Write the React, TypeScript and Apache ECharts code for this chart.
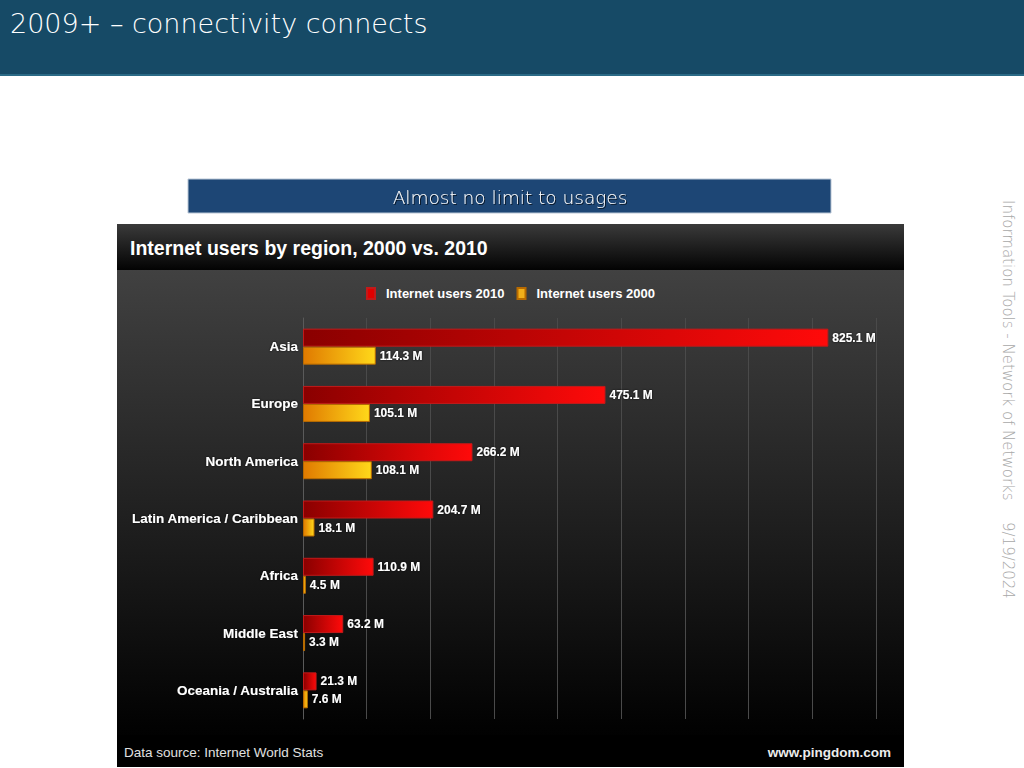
import React, { useEffect, useRef } from "react";
import * as echarts from "echarts";

const regions = [
  "Asia",
  "Europe",
  "North America",
  "Latin America / Caribbean",
  "Africa",
  "Middle East",
  "Oceania / Australia",
];
const users2010 = [825.1, 475.1, 266.2, 204.7, 110.9, 63.2, 21.3];
const users2000 = [114.3, 105.1, 108.1, 18.1, 4.5, 3.3, 7.6];
const seriesNames = ["Internet users 2010", "Internet users 2000"];

const slideTitle = "2009+ – connectivity connects";
const subtitle = "Almost no limit to usages";
const chartTitle = "Internet users by region, 2000 vs. 2010";
const sourceText = "Data source: Internet World Stats";
const siteText = "www.pingdom.com";
const sideText = "Information Tools - Network of Networks";
const dateText = "9/19/2024";

export default function App() {
  const ref = useRef<HTMLDivElement>(null);
  useEffect(() => {
    if (!ref.current) return;
    const chart = echarts.init(ref.current, null, { renderer: "svg" });
    const redGrad = {
      type: "linear", x: 0, y: 0, x2: 1, y2: 0,
      colorStops: [
        { offset: 0, color: "#8a0000" },
        { offset: 1, color: "#ff0a0a" },
      ],
    };
    const orangeGrad = {
      type: "linear", x: 0, y: 0, x2: 1, y2: 0,
      colorStops: [
        { offset: 0, color: "#e07a00" },
        { offset: 1, color: "#ffd81a" },
      ],
    };
    const labelStyle = {
      show: true,
      position: "right",
      distance: 4,
      color: "#ffffff",
      fontFamily: "Liberation Sans",
      fontWeight: "bold",
      fontSize: 12,
      formatter: "{c} M",
      textShadowColor: "rgba(0,0,0,0.8)",
      textShadowBlur: 2,
    };
    const slideFont = "DejaVu Sans";
    const option: any = {
      animation: false,
      backgroundColor: "#ffffff",
      graphic: [
        { type: "rect", z: -10, shape: { x: 0, y: 0, width: 1024, height: 75 }, style: { fill: "#164a66" } },
        { type: "rect", z: -10, shape: { x: 0, y: 74, width: 1024, height: 2 }, style: { fill: "#2a6a86" } },
        {
          type: "text", x: 10, y: 23,
          style: { text: slideTitle, fill: "#ffffff", fontFamily: slideFont, fontWeight: 200, fontSize: 27, verticalAlign: "middle", align: "left" },
        },
        { type: "rect", z: -10, shape: { x: 188, y: 179, width: 643, height: 34 }, style: { fill: "#1d4675", stroke: "#b9c6d6", lineWidth: 1 } },
        {
          type: "text", x: 510, y: 197,
          style: {
            text: subtitle, fill: "#ffffff", fontFamily: slideFont, fontWeight: 200, fontSize: 18.5, align: "center", verticalAlign: "middle",
            textShadowColor: "rgba(0,0,0,0.7)", textShadowOffsetX: 1, textShadowOffsetY: 1, textShadowBlur: 1,
          },
        },
        // chart image background
        {
          type: "rect", z: -10, shape: { x: 117, y: 270, width: 787, height: 497 },
          style: {
            fill: {
              type: "linear", x: 0, y: 0, x2: 0, y2: 1, global: false,
              colorStops: [
                { offset: 0, color: "#414141" },
                { offset: 0.55, color: "#1c1c1c" },
                { offset: 0.92, color: "#020202" },
                { offset: 1, color: "#000000" },
              ],
            },
          },
        },
        {
          type: "rect", z: -10, shape: { x: 117, y: 224, width: 787, height: 46 },
          style: {
            fill: {
              type: "linear", x: 0, y: 0, x2: 0, y2: 1, global: false,
              colorStops: [
                { offset: 0, color: "#3a3a3a" },
                { offset: 1, color: "#030303" },
              ],
            },
          },
        },
        { type: "rect", z: -10, shape: { x: 117, y: 735, width: 787, height: 32 }, style: { fill: "#000000" } },
        {
          type: "text", x: 130, y: 248,
          style: { text: chartTitle, fill: "#ffffff", fontFamily: "Liberation Sans", fontWeight: "bold", fontSize: 19.5, verticalAlign: "middle" },
        },
        {
          type: "text", x: 124, y: 752,
          style: { text: sourceText, fill: "#e0e0e0", fontFamily: "Liberation Sans", fontSize: 13.5, verticalAlign: "middle" },
        },
        {
          type: "text", x: 891, y: 752,
          style: { text: siteText, fill: "#ececec", fontFamily: "Liberation Sans", fontWeight: "bold", fontSize: 13.5, align: "right", verticalAlign: "middle" },
        },
        {
          type: "text", x: 1008, y: 200, rotation: -Math.PI / 2,
          style: { text: sideText, fill: "#a8a8a8", fontFamily: slideFont, fontWeight: 200, fontSize: 15, align: "left", verticalAlign: "middle" },
        },
        {
          type: "text", x: 1008, y: 522, rotation: -Math.PI / 2,
          style: { text: dateText, fill: "#a8a8a8", fontFamily: slideFont, fontWeight: 200, fontSize: 15, align: "left", verticalAlign: "middle" },
        },
      ],
      legend: {
        left: 366,
        top: 287,
        padding: 0,
        itemWidth: 8,
        itemHeight: 11,
        itemGap: 12,
        icon: "rect",
        data: [
          { name: seriesNames[0], itemStyle: { color: "#e00000" } },
          { name: seriesNames[1], itemStyle: { color: "#f2b01a" } },
        ],
        textStyle: { color: "#ffffff", fontFamily: "Liberation Sans", fontWeight: "bold", fontSize: 13, padding: [0, 0, 0, 6] },
      },
      grid: { left: 303, top: 318, width: 573, height: 401, containLabel: false },
      xAxis: {
        type: "value",
        min: 0,
        max: 900,
        interval: 100,
        axisLabel: { show: false },
        axisLine: { show: false },
        axisTick: { show: false },
        splitLine: { show: true, lineStyle: { color: "#4a4a4a", width: 1 } },
      },
      yAxis: {
        type: "category",
        inverse: true,
        data: regions,
        axisLine: { show: true, lineStyle: { color: "#5a5a5a", width: 1 } },
        axisTick: { show: false },
        axisLabel: {
          color: "#ffffff", fontFamily: "Liberation Sans", fontWeight: "bold", fontSize: 13.5, margin: 5,
          textShadowColor: "rgba(0,0,0,0.8)", textShadowBlur: 2,
        },
      },
      series: [
        {
          name: seriesNames[0],
          type: "bar",
          data: users2010,
          barWidth: 18,
          barGap: "0%",
          itemStyle: { color: redGrad, borderColor: "#c21a1a", borderWidth: 1 },
          label: labelStyle,
        },
        {
          name: seriesNames[1],
          type: "bar",
          data: users2000,
          barWidth: 18,
          barGap: "0%",
          itemStyle: { color: orangeGrad, borderColor: "#b86a00", borderWidth: 1 },
          label: labelStyle,
        },
      ],
    };
    chart.setOption(option);
    return () => chart.dispose();
  }, []);
  return (
    <div
      ref={ref}
      style={{ position: "fixed", left: 0, top: 0, width: 1024, height: 768 }}
    />
  );
}
